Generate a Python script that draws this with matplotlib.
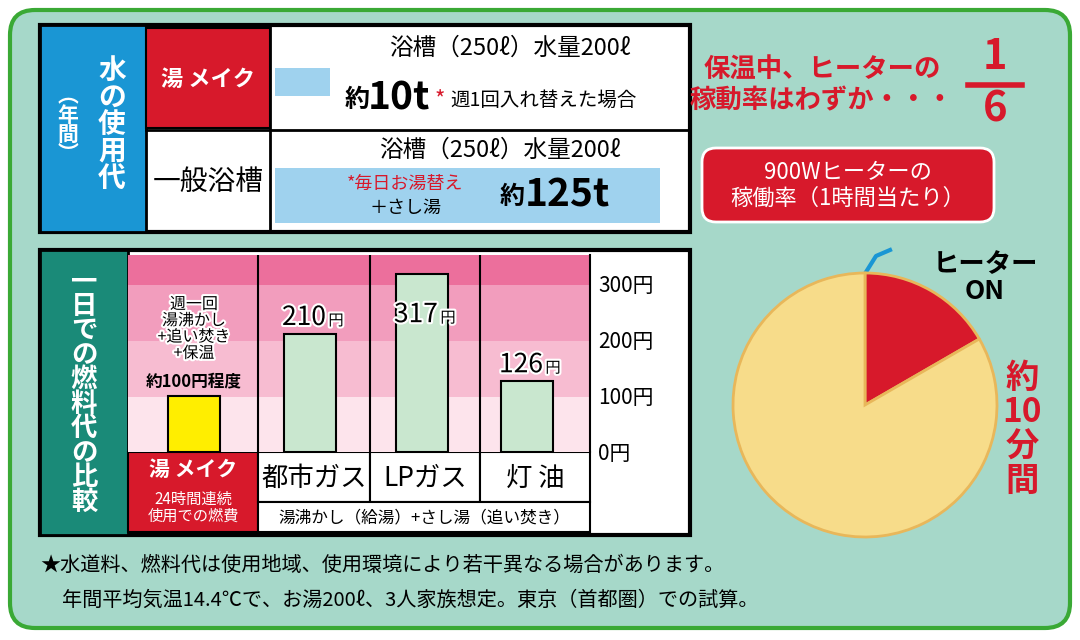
import matplotlib
matplotlib.use("Agg")
import matplotlib.pyplot as plt
from matplotlib.patches import FancyBboxPatch, Rectangle
import matplotlib.patheffects as pe
import numpy as np

plt.rcParams['font.family'] = ['Noto Sans CJK JP', 'DejaVu Sans']

# data
categories = ["湯メイク", "都市ガス", "LPガス", "灯 油"]
costs = [100, 210, 317, 126]
cost_labels = ["", "210円", "317円", "126円"]
yticks = [0, 100, 200, 300]
ytick_labels = ["0円", "100円", "200円", "300円"]
pie_minutes = [10, 50]

fig = plt.figure(figsize=(10.8, 6.4), dpi=100)
ax = fig.add_axes([0, 0, 1, 1])
ax.set_xlim(0, 1080); ax.set_ylim(640, 0); ax.axis('off')

def px(x0, y0, x1, y1):
    return [x0/1080, 1-y1/640, (x1-x0)/1080, (y1-y0)/640]

BG = '#a6d8c9'
ax.add_patch(FancyBboxPatch((10, 10), 1060, 618, boxstyle="round,pad=0,rounding_size=25",
                            fc=BG, ec='#3aa935', lw=3))
# top table
ax.add_patch(Rectangle((40, 25), 650, 207, fc='white', ec='black', lw=3))
ax.add_patch(Rectangle((40, 25), 106, 207, fc='#1a96d4', ec='black', lw=2))
ax.add_patch(Rectangle((146, 28), 124, 100, fc='#d7192b', ec='black', lw=1.5))
ax.plot([146, 690], [130, 130], color='black', lw=2)
ax.plot([270, 270], [25, 232], color='black', lw=2)
ax.text(112, 125, "水\nの\n使\n用\n代", color='white', fontsize=20, fontweight='bold',
        ha='center', va='center', linespacing=0.95)
ax.text(68, 125, "︵\n年\n間\n︶", color='white', fontsize=15, fontweight='bold',
        ha='center', va='center', linespacing=0.9)
ax.text(208, 80, "湯 メイク", color='white', fontsize=16, fontweight='bold', ha='center', va='center', style='italic')
ax.add_patch(Rectangle((275, 68), 55, 28, fc='#9fd2ee'))
ax.text(510, 48, "浴槽（250ℓ）水量200ℓ", fontsize=17, ha='center', va='center')
ax.text(345, 100, "約", fontsize=18, fontweight='bold', ha='left', va='center')
ax.text(368, 98, "10t", fontsize=28, fontweight='bold', ha='left', va='center')
ax.text(435, 100, "*", fontsize=16, color='#d7192b', ha='left', va='center')
ax.text(450, 100, "週1回入れ替えた場合", fontsize=14, ha='left', va='center')
ax.text(208, 182, "一般浴槽", fontsize=20, ha='center', va='center')
ax.add_patch(Rectangle((275, 168), 385, 55, fc='#9fd2ee'))
ax.text(500, 150, "浴槽（250ℓ）水量200ℓ", fontsize=17, ha='center', va='center')
ax.text(405, 184, "*毎日お湯替え", fontsize=13, ha='center', va='center', color='#d7192b')
ax.text(405, 208, "＋さし湯", fontsize=13, ha='center', va='center')
ax.text(500, 197, "約", fontsize=18, fontweight='bold', ha='left', va='center')
ax.text(525, 195, "125t", fontsize=28, fontweight='bold', ha='left', va='center')

# bottom-left box
ax.add_patch(Rectangle((40, 250), 650, 285, fc='white', ec='black', lw=3))
ax.add_patch(Rectangle((40, 250), 88, 285, fc='#1a8a78', ec='black', lw=2))
ax.text(84, 392, "一\n日\nで\nの\n燃\n料\n代\nの\n比\n較", color='white', fontsize=19,
        fontweight='bold', ha='center', va='center', linespacing=0.88)
ax.add_patch(Rectangle((128, 452), 130, 80, fc='#d7192b', ec='black', lw=1.5))
ax.text(193, 470, "湯 メイク", color='white', fontsize=15, fontweight='bold', ha='center', va='center', style='italic')
ax.text(193, 508, "24時間連続\n使用での燃費", color='white', fontsize=11, ha='center', va='center', linespacing=1.0)
for x0, x1, lab in [(258, 370, categories[1]), (370, 480, categories[2]), (480, 590, categories[3])]:
    ax.add_patch(Rectangle((x0, 452), x1-x0, 50, fc='white', ec='black', lw=1.5))
    ax.text((x0+x1)/2, 478, lab, fontsize=19, ha='center', va='center')
ax.add_patch(Rectangle((258, 502), 332, 30, fc='white', ec='black', lw=1.5))
ax.text(424, 518, "湯沸かし（給湯）+さし湯（追い焚き）", fontsize=12, ha='center', va='center')

# bar chart
bax = fig.add_axes(px(128, 255, 590, 452))
ymax = 350
bands = ['#fde4ec', '#f7bcd1', '#f29dbd', '#ec6f9c']
edges = [0, 97, 198, 296, ymax]
for i in range(4):
    bax.axhspan(edges[i], edges[i+1], color=bands[i], lw=0)
xs = [194, 310, 422, 527]
bax.bar(xs, costs, width=52, color=['#ffee00', '#c9e7cf', '#c9e7cf', '#c9e7cf'],
        edgecolor='black', lw=1.5)
stroke = [pe.withStroke(linewidth=3, foreground='white')]
for xv, c, lab in zip(xs, costs, cost_labels):
    if lab:
        ly = min(c, 215) + 5
        bax.text(xv - 6, ly, lab[:-1], fontsize=19, ha='center', va='bottom', path_effects=stroke)
        bax.text(xv + 26, ly + 3, "円", fontsize=11, ha='center', va='bottom', path_effects=stroke)
bax.text(194, 110, "約100円程度", fontsize=12, ha='center', va='bottom', fontweight='bold')
bax.text(194, 160, "週一回\n湯沸かし\n+追い焚き\n+保温", fontsize=11.5, ha='center', va='bottom',
         linespacing=0.95, path_effects=stroke)
for xv in [258, 370, 480]:
    bax.axvline(xv, color='black', lw=1.5)
bax.set_xlim(128, 590); bax.set_ylim(0, ymax)
bax.set_xticks([])
bax.set_yticks(yticks); bax.set_yticklabels(ytick_labels, fontsize=15)
bax.yaxis.tick_right()
bax.tick_params(axis='y', length=0, pad=6)
for s in bax.spines.values():
    s.set_visible(False)
bax.spines['right'].set_visible(True); bax.spines['right'].set_linewidth(1.5)

# right side texts
ax.text(822, 85, "保温中、ヒーターの\n稼動率はわずか・・・", color='#d7192b', fontsize=19,
        fontweight='bold', ha='center', va='center', linespacing=1.2)
ax.text(995, 57, "1", color='#d7192b', fontsize=30, fontweight='bold', ha='center', va='center')
ax.plot([968, 1022], [85, 85], color='#d7192b', lw=4)
ax.text(995, 110, "6", color='#d7192b', fontsize=30, fontweight='bold', ha='center', va='center')
ax.add_patch(FancyBboxPatch((702, 148), 292, 74, boxstyle="round,pad=0,rounding_size=14",
                            fc='#d7192b', ec='white', lw=2))
ax.text(848, 185, "900Wヒーターの\n稼働率（1時間当たり）", color='white', fontsize=16,
        ha='center', va='center', linespacing=1.15)

# pie
pax = fig.add_axes(px(695, 240, 1035, 570))
pax.pie(pie_minutes, colors=['#d7192b', '#f7dc8a'], startangle=90, counterclock=False,
        wedgeprops=dict(edgecolor='#e8b75a', lw=2))
pax.set_aspect('equal')
ax.plot([866, 876, 890], [272, 256, 250], color='#1a96d4', lw=3)
ax.text(985, 278, "ヒーター\nON", fontsize=19, fontweight='bold', ha='center', va='center',
        linespacing=1.0)
ax.text(1022, 430, "約\n10\n分\n間", color='#d7192b', fontsize=24, fontweight='bold',
        ha='center', va='center', linespacing=1.05)
ax.text(815, 420, "50分間は", color='#d7192b', fontsize=24, fontweight='bold', ha='center', va='center')
ax.text(830, 466, "ヒーターOFF", fontsize=20, ha='center', va='center')

# footnote
ax.text(40, 565, "★水道料、燃料代は使用地域、使用環境により若干異なる場合があります。", fontsize=14.5,
        ha='left', va='center')
ax.text(62, 600, "年間平均気温14.4℃で、お湯200ℓ、3人家族想定。東京（首都圏）での試算。", fontsize=14.5,
        ha='left', va='center')

fig.savefig("out.png", dpi=100)
